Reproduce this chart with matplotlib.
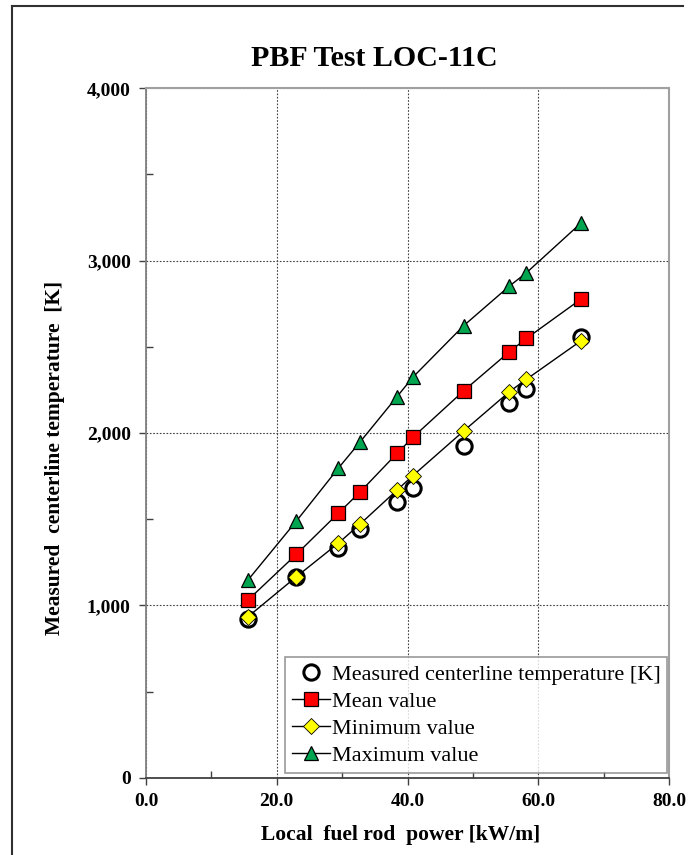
import numpy as np
import matplotlib.pyplot as plt
from matplotlib.ticker import FuncFormatter, MultipleLocator
from matplotlib.lines import Line2D

# local fuel rod power [kW/m]
power = [15.6, 23.0, 29.4, 32.7, 38.4, 40.8, 48.6, 55.6, 58.2, 66.5]
measured = [921, 1166, 1331, 1441, 1601, 1683, 1926, 2176, 2255, 2559]
mean_val = [1031, 1296, 1534, 1656, 1882, 1974, 2245, 2472, 2549, 2776]
min_val = [934, 1166, 1360, 1470, 1669, 1752, 2012, 2240, 2312, 2534]
max_val = [1147, 1489, 1795, 1946, 2211, 2323, 2623, 2853, 2930, 3217]

plt.rcParams['font.family'] = ['Liberation Serif', 'DejaVu Serif']

fig = plt.figure(figsize=(6.88, 8.55), dpi=100)
ax = fig.add_axes([0.2122, 0.0904, 0.7602, 0.8063])

ax.plot(power, measured, linestyle='none', marker='o', ms=11, mfc='white',
        mec='black', mew=2.2, label='Measured centerline temperature [K]', zorder=5)
ax.plot(power, mean_val, color='black', lw=1, marker='s', ms=9.5, mfc='#ff0000',
        mec='black', mew=0.9, label='Mean value', zorder=3)
ax.plot(power, min_val, color='black', lw=1, marker='D', ms=8, mfc='#ffff00',
        mec='black', mew=0.6, label='Minimum value', zorder=6)
ax.plot(power, max_val, color='black', lw=1, marker='^', ms=10.5, mfc='#00a550',
        mec='black', mew=0.9, label='Maximum value', zorder=3)

ax.set_xlim(0, 80)
ax.set_ylim(0, 4000)
ax.xaxis.set_major_locator(MultipleLocator(20))
ax.xaxis.set_minor_locator(MultipleLocator(10))
ax.yaxis.set_major_locator(MultipleLocator(1000))
ax.yaxis.set_minor_locator(MultipleLocator(500))
ax.xaxis.set_major_formatter(FuncFormatter(lambda v, p: f'{v:.1f}'))
ax.yaxis.set_major_formatter(FuncFormatter(lambda v, p: f'{int(v):,}'))

ax.tick_params(which='major', direction='out', length=5, width=1, color='#404040',
               labelsize=14, pad=6)
ax.tick_params(which='minor', direction='in', length=5, width=1, color='#404040')
for lbl in ax.get_xticklabels() + ax.get_yticklabels():
    lbl.set_fontweight('bold')

ax.grid(True, which='major', linestyle=(0, (1.5, 1.5)), color='#404040', lw=0.8)

for s in ['top', 'right']:
    ax.spines[s].set_color('#a0a0a0')
    ax.spines[s].set_linewidth(1.5)
ax.spines['left'].set_color('#808080')
ax.spines['left'].set_linewidth(1.3)
ax.spines['bottom'].set_color('#404040')
ax.spines['bottom'].set_linewidth(1.3)

ax.set_xlabel('Local  fuel rod  power [kW/m]', fontsize=15.5, fontweight='bold')
ax.xaxis.set_label_coords(0.487, -0.069)
ax.set_ylabel('Measured  centerline temperature  [K]', fontsize=15.5, fontweight='bold')
ax.yaxis.set_label_coords(-0.155, 0.464)
fig.text(0.544, 0.932, 'PBF Test LOC-11C', fontsize=21.5, fontweight='bold',
         ha='center', va='center')

leg = ax.legend(loc='lower right', bbox_to_anchor=(0.997, 0.007), fontsize=16,
                frameon=True, fancybox=False, edgecolor='#808080', handlelength=1.7,
                handletextpad=0.1, borderpad=0.3, labelspacing=0.3, borderaxespad=0)
leg.get_frame().set_linewidth(1.2)
leg.set_zorder(10)

# outer frame (top and left edge)
fig.add_artist(Line2D([12 / 688, 683 / 688], [1 - 6 / 855, 1 - 6 / 855],
                      color='#303030', lw=1.5, transform=fig.transFigure))
fig.add_artist(Line2D([12 / 688, 12 / 688], [1 - 6 / 855, 0],
                      color='#303030', lw=1.5, transform=fig.transFigure))

fig.savefig('out.png', dpi=100)
